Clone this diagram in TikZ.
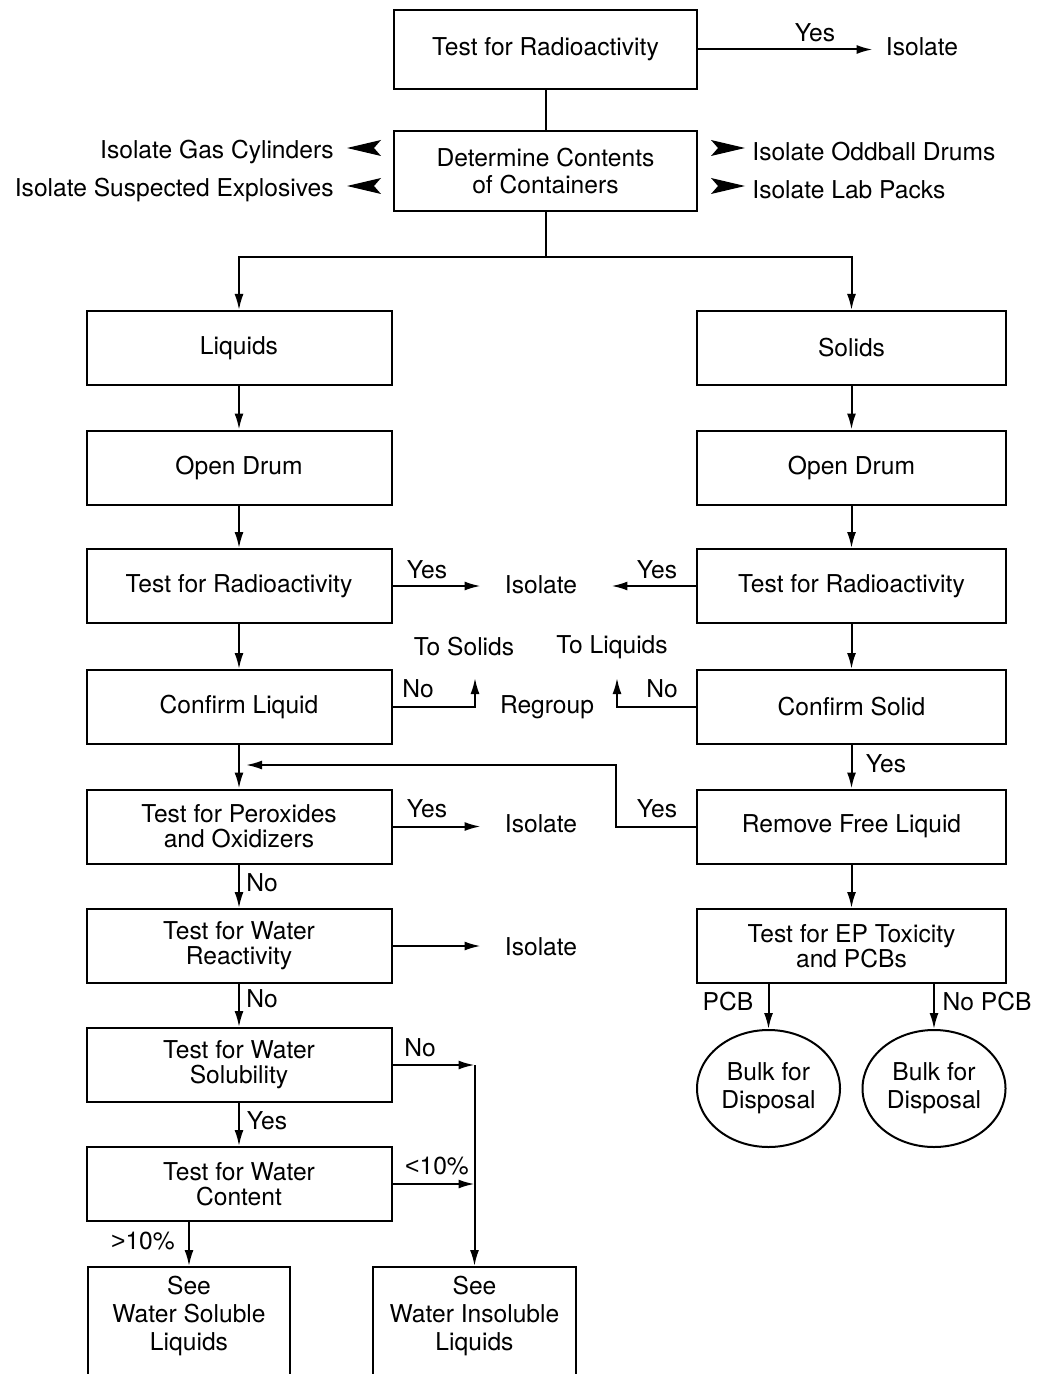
\documentclass[tikz,border=0pt]{standalone}
\usepackage{fontspec}
\setmainfont{TeX Gyre Heros}
\newfontfamily\lsans{Liberation Sans}
\usetikzlibrary{arrows.meta,shapes.geometric}
\begin{document}
\begin{tikzpicture}[x=0.5pt,y=-0.5pt,
  every node/.style={font=\fontsize{12.3}{12.5}\selectfont, inner sep=0pt},
  box/.style={draw, line width=1pt, minimum width=152.5pt, minimum height=37pt, align=center},
  rbox/.style={box, minimum width=154.5pt},
  tbox/.style={box, minimum width=151.5pt, minimum height=39.5pt},
  oval/.style={draw, line width=1pt, ellipse, minimum width=71.5pt, minimum height=58.5pt, align=center, font=\fontsize{12.3}{14}\selectfont},
  lbl/.style={align=center},
  ln/.style={line width=1pt},
  arr/.style={line width=1pt, -{Latex[length=8pt,width=4.5pt]}},
  bigtip/.style={fill=black}
]
\useasboundingbox (0,0) rectangle (1039,1374);

% top
\node[tbox] (t0) at (545.5,49.5) {Test for Radioactivity};
\node[lbl] (iso0) at (922,47) {Isolate};
\draw[arr, shorten >=6.5pt] (t0.east) -- (iso0.west |- t0.east);
\node[lbl] at (815,33) {Yes};

\node[tbox, minimum height=40pt, font=\fontsize{12.3}{13.5}\selectfont] (dc) at (545.5,171) {Determine Contents\\of Containers};
\draw[ln] (t0.south) -- (dc.north);

\node[lbl, anchor=east] (gc) at (334,152) {Isolate Gas Cylinders};
\node[lbl, anchor=east] (se) at (334,190) {Isolate Suspected Explosives};
\node[lbl, anchor=west] (ob) at (752,152) {Isolate Oddball Drums};
\node[lbl, anchor=west] (lp) at (752,190) {Isolate Lab Packs};
\fill[bigtip] (347,148) -- (381,140) -- (374,148) -- (381,156) -- cycle;
\fill[bigtip] (347,186) -- (381,178) -- (374,186) -- (381,194) -- cycle;
\fill[bigtip] (745,148) -- (711,140) -- (718,148) -- (711,156) -- cycle;
\fill[bigtip] (745,186) -- (711,178) -- (718,186) -- (711,194) -- cycle;

% columns
\node[box] (liq) at (239,348) {Liquids};
\node[rbox] (sol) at (851.5,348) {Solids};
\coordinate (split) at (545.5,257);
\draw[ln] (dc.south) -- (split);
\draw[arr] (split) -| (liq.north);
\draw[arr] (split) -| (sol.north);

\node[box] (od1) at (239,467.5) {Open Drum};
\node[rbox] (od2) at (851.5,467.5) {Open Drum};
\draw[arr] (liq) -- (od1);
\draw[arr] (sol) -- (od2);

\node[box] (tr1) at (239,586) {Test for Radioactivity};
\node[rbox] (tr2) at (851.5,586) {Test for Radioactivity};
\draw[arr] (od1) -- (tr1);
\draw[arr] (od2) -- (tr2);
\node[lbl] (iso1) at (541,585) {Isolate};
\draw[arr, shorten >=12pt] (tr1.east) -- (iso1.west |- tr1.east);
\draw[arr, shorten >=17pt] (tr2.west) -- (iso1.east |- tr2.west);
\node[lbl] at (427,570) {Yes};
\node[lbl] at (657,570) {Yes};

\node[box] (cl) at (239,707) {Confirm Liquid};
\node[rbox] (cs) at (851.5,707) {Confirm Solid};
\draw[arr] (tr1) -- (cl);
\draw[arr] (tr2) -- (cs);
\node[lbl] (tos) at (464,647) {To Solids};
\node[lbl] (tol) at (612,647) {To Liquids};
\node[lbl] (rg) at (547,707) {Regroup};
\coordinate (tsend) at (475,678);
\coordinate (tlend) at (617,678);
\draw[arr] (cl.east) -| (tsend);
\draw[arr] (cs.west) -| (tlend);
\node[lbl] at (418,689) {No};
\node[lbl] at (662,689) {No};

\node[box] (tpo) at (239,826.5) {Test for Peroxides\\and Oxidizers};
\node[rbox] (rfl) at (851.5,826.5) {Remove Free Liquid};
\draw[arr] (cl) -- (tpo);
\draw[arr] (cs) -- (rfl);
\node[lbl] at (886,764) {Yes};
\coordinate (mg) at (246,765);
\draw[arr] (rfl.west) -- ++(-80,0) |- (mg);
\node[lbl] at (657,809) {Yes};
\node[lbl] (iso2) at (541,824) {Isolate};
\draw[arr, shorten >=12pt] (tpo.east) -- (iso2.west |- tpo.east);
\node[lbl] at (427,809) {Yes};

\node[box] (twr) at (239,946) {Test for Water\\Reactivity};
\node[rbox] (tep) at (851.5,946) {Test for EP Toxicity\\and PCBs};
\draw[arr] (tpo) -- (twr);
\draw[arr] (rfl) -- (tep);
\node[lbl] at (262,883) {No};
\node[lbl] (iso3) at (541,947) {Isolate};
\draw[arr, shorten >=12pt] (twr.east) -- (iso3.west |- twr.east);

\node[oval] (e1) at (768.5,1088.5) {Bulk for\\Disposal};
\node[oval] (e2) at (934,1088.5) {Bulk for\\Disposal};
\draw[arr] (tep.south -| e1.north) -- (e1.north);
\draw[arr] (tep.south -| e2.north) -- (e2.north);
\node[lbl] at (728,1002) {PCB};
\node[lbl] at (987,1002) {No PCB};

\node[box] (tws) at (239,1065) {Test for Water\\Solubility};
\draw[arr] (twr) -- (tws);
\node[lbl] at (262,999) {No};

\node[box] (twc) at (239,1184) {Test for Water\\Content};
\draw[arr] (tws) -- (twc);
\node[lbl] at (267,1121) {Yes};

% bottom boxes (open at the bottom edge of the picture)
\node[draw, line width=1pt, minimum width=101pt, minimum height=70pt, anchor=north] (ws) at (189,1266) {};
\node[draw, line width=1pt, minimum width=101.5pt, minimum height=70pt, anchor=north] (wi) at (474.5,1266) {};
\node[lbl, font=\fontsize{12.3}{14}\selectfont] (wst) at (189,1316) {See\\Water Soluble\\Liquids};
\node[lbl, font=\fontsize{12.3}{14}\selectfont] (wit) at (474.5,1316) {See\\Water Insoluble\\Liquids};

\coordinate (cor) at (474.5,1065);
\draw[arr] (tws.east) -- (cor);
\draw[arr] (cor) -- (wi.north);
\node[lbl] at (420,1048) {No};
\draw[arr] (twc.east) -- (twc.east -| cor);
\node[lbl] at (437,1166) {{\lsans <}10\%};
\draw[arr] (twc.south -| ws.north) -- (ws.north);
\node[lbl] at (143,1241) {{\lsans >}10\%};
\end{tikzpicture}
\end{document}
